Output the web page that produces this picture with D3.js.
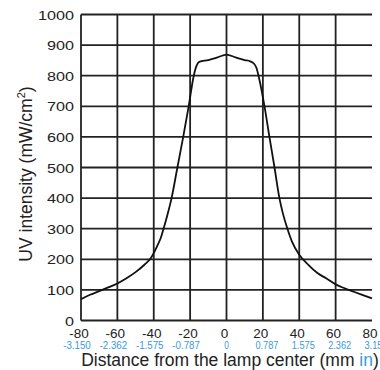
<!DOCTYPE html>
<html>
<head>
<meta charset="utf-8">
<script src="https://cdn.jsdelivr.net/npm/d3@7"></script>
<style>
  body { margin: 0; background: #fff; }
  svg { display: block; font-family: "Liberation Sans", Arial, sans-serif; }
</style>
</head>
<body>
<div id="chart"></div>
<script>
// distance from lamp center (mm) and UV intensity (mW/cm2)
const distMm = [-80, -75, -70, -65, -60, -55, -50, -45, -41.5, -38, -36, -34.6, -32.5, -30.2, -27, -23.8, -20.8, -18, -16.5, -15,
                -10, -5, 0, 5, 10, 13, 15, 16.5, 17.6, 20.9, 23.6, 26.4, 29.1, 31, 33.5, 36, 40, 45, 50, 55, 60, 65, 70, 75, 80];
const intensity = [70, 84, 96, 108, 121, 138, 158, 183, 205, 245, 272, 300, 345, 400, 500, 600, 700, 800, 832, 845,
                   851, 860, 869, 860, 851, 847, 840, 825, 800, 700, 600, 500, 400, 350, 300, 258, 215, 182, 155, 137, 118, 105, 94, 83, 72];

const xTicksMm = [-80, -60, -40, -20, 0, 20, 40, 60, 80];
const xTicksIn = ["-3.150", "-2.362", "-1.575", "-0.787", "0", "0.787", "1.575", "2.362", "3.150"];
const yTicks = [0, 100, 200, 300, 400, 500, 600, 700, 800, 900, 1000];

var margin = {top: 14.5, right: 8, bottom: 49.5, left: 81},
    width = 380,
    height = 370;

var svg = d3.select("#chart")
  .append("svg")
    .attr("width", width)
    .attr("height", height);

var x = d3.scaleLinear()
    .domain([-80, 80])
    .range([margin.left, width - margin.right]);

var y = d3.scaleLinear()
    .domain([0, 1000])
    .range([height - margin.bottom, margin.top]);

// grid
svg.append("g")
  .selectAll("line")
  .data(yTicks)
  .enter().append("line")
    .attr("x1", x(-80))
    .attr("x2", x(80))
    .attr("y1", d => y(d))
    .attr("y2", d => y(d))
    .attr("stroke", "#222")
    .attr("stroke-width", 1.8);

svg.append("g")
  .selectAll("line")
  .data(xTicksMm.slice(0, -1))
  .enter().append("line")
    .attr("x1", d => x(d))
    .attr("x2", d => x(d))
    .attr("y1", y(1000))
    .attr("y2", y(0))
    .attr("stroke", "#222")
    .attr("stroke-width", 1.8);

// y axis labels
svg.append("g")
  .selectAll("text")
  .data(yTicks)
  .enter().append("text")
    .attr("x", 74)
    .attr("y", d => y(d) + 5)
    .attr("text-anchor", "end")
    .attr("font-size", 13)
    .attr("textLength", d => String(d).length * 9)
    .attr("lengthAdjust", "spacingAndGlyphs")
    .attr("fill", "#222")
    .text(d => d);

// x axis labels, mm
svg.append("g")
  .selectAll("text")
  .data(xTicksMm)
  .enter().append("text")
    .attr("x", d => x(d) - 2)
    .attr("y", 338)
    .attr("text-anchor", "middle")
    .attr("font-size", 13.5)
    .attr("fill", "#222")
    .text(d => d);

// x axis labels, inches
svg.append("g")
  .selectAll("text")
  .data(xTicksIn)
  .enter().append("text")
    .attr("x", (d, i) => x(xTicksMm[i]) + (i > 4 ? 4 : i < 4 ? -4 : 0))
    .attr("y", 349)
    .attr("text-anchor", "middle")
    .attr("font-size", 10.5)
    .attr("textLength", d => d.length * 4.6)
    .attr("lengthAdjust", "spacingAndGlyphs")
    .attr("fill", "#3a9ad9")
    .text(d => d);

// x title
var xt = svg.append("text")
    .attr("x", 230)
    .attr("y", 366)
    .attr("text-anchor", "middle")
    .attr("font-size", 17.5)
    .attr("fill", "#222");
xt.append("tspan").text("Distance from the lamp center (mm ");
xt.append("tspan").attr("fill", "#3a9ad9").text("in");
xt.append("tspan").text(")");

// y title
var yt = svg.append("text")
    .attr("transform", "translate(32,174) rotate(-90)")
    .attr("text-anchor", "middle")
    .attr("font-size", 17.5)
    .attr("fill", "#222");
yt.append("tspan").text("UV intensity (mW/cm");
yt.append("tspan").attr("font-size", 11).attr("dy", -7).text("2");
yt.append("tspan").attr("dy", 7).text(")");

// curve
var line = d3.line()
    .x((d, i) => x(distMm[i]))
    .y(d => y(d))
    .curve(d3.curveMonotoneX);

svg.append("path")
    .datum(intensity)
    .attr("fill", "none")
    .attr("stroke", "#111")
    .attr("stroke-width", 1.8)
    .attr("d", line);
</script>
</body>
</html>
